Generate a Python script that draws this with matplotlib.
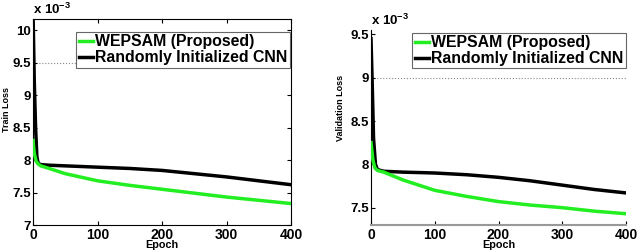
import numpy as np
import matplotlib.pyplot as plt

plt.rcParams['font.family'] = ['Liberation Sans', 'DejaVu Sans']
plt.rcParams['mathtext.fontset'] = 'custom'
plt.rcParams['mathtext.rm'] = 'Liberation Sans'
plt.rcParams['mathtext.bf'] = 'Liberation Sans:bold'

# values in units of 1e-3
ep_tr_g = [0, 2, 5, 8, 12, 25, 50, 100, 150, 200, 250, 300, 350, 400]
tr_g = [8.3, 8.1, 7.98, 7.94, 7.91, 7.87, 7.79, 7.68, 7.61, 7.55, 7.49, 7.43, 7.38, 7.33]
ep_tr_b = [0, 2, 4, 6, 8, 12, 25, 50, 100, 150, 200, 250, 300, 350, 400]
tr_b = [10.3, 9.2, 8.5, 8.05, 7.95, 7.93, 7.92, 7.91, 7.89, 7.87, 7.84, 7.79, 7.74, 7.68, 7.62]

ep_va_g = [0, 3, 6, 10, 20, 50, 100, 150, 200, 250, 300, 350, 400]
va_g = [8.25, 8.05, 7.96, 7.93, 7.91, 7.82, 7.70, 7.63, 7.57, 7.53, 7.50, 7.46, 7.43]
ep_va_b = [0, 2, 4, 7, 10, 20, 50, 100, 150, 200, 250, 300, 350, 400]
va_b = [9.45, 8.9, 8.3, 8.0, 7.94, 7.92, 7.91, 7.90, 7.88, 7.85, 7.81, 7.76, 7.71, 7.67]

labels = ['WEPSAM (Proposed)', 'Randomly Initialized CNN']
green = '#22ee22'

fig = plt.figure(figsize=(6.4, 2.52), dpi=100)
W, H = 640, 252

def make_ax(x0, x1, y0, y1):
    return fig.add_axes([x0 / W, 1 - y1 / H, (x1 - x0) / W, (y1 - y0) / H])

ax1 = make_ax(33, 291, 19, 225)
ax2 = make_ax(371, 626, 30, 225)

for ax, eg, g, eb, b, ylim, yt, ylab, hl, lx, ly, lanchor in [
    (ax1, ep_tr_g, tr_g, ep_tr_b, tr_b, (7, 10.17), [7, 7.5, 8, 8.5, 9, 9.5, 10],
     'Train Loss', 9.5, -0.085, 0.56, (0.996, 0.937)),
    (ax2, ep_va_g, va_g, ep_va_b, va_b, (7.3, 9.55), [7.5, 8, 8.5, 9, 9.5],
     'Validation Loss', 9.0, -0.102, 0.6, (1.0, 0.985)),
]:
    ax.axhline(hl, color='#888888', ls=':', lw=0.8, zorder=0)
    ax.plot(eb, b, color='black', lw=2.5, label=labels[1], zorder=3)
    ax.plot(eg, g, color=green, lw=2.5, label=labels[0], zorder=4)
    ax.set_xlim(0, 400)
    ax.set_ylim(*ylim)
    ax.set_xticks([0, 100, 200, 300, 400])
    ax.set_yticks(yt)
    ax.set_yticklabels([('%g' % v) for v in yt])
    ax.tick_params(direction='in', length=3, labelsize=10, pad=2)
    ax.tick_params(axis='y', labelsize=9.5, pad=1.5)
    for t in ax.get_xticklabels() + ax.get_yticklabels():
        t.set_fontweight('bold')
    ax.set_xlabel('Epoch', fontsize=7.8, fontweight='bold', labelpad=-1)
    ax.set_ylabel(ylab, fontsize=6.5, fontweight='bold')
    ax.yaxis.set_label_coords(lx, ly)
    ax.text(0, 1.01, r'x 10$^{\mathbf{-3}}$', transform=ax.transAxes, fontsize=9.5,
            fontweight='bold', ha='left', va='bottom')
    h, l = ax.get_legend_handles_labels()
    leg = ax.legend(h[::-1], l[::-1], loc='upper right', bbox_to_anchor=lanchor,
                    prop={'weight': 'bold', 'size': 11.4},
                    handlelength=0.9, handletextpad=0.15, borderpad=0.15, labelspacing=0.05,
                    fancybox=False, framealpha=1, edgecolor='#666666', borderaxespad=0)
    leg.get_frame().set_linewidth(0.8)

ax1.tick_params(top=True, right=True)
ax2.spines['top'].set_visible(False)
ax2.spines['right'].set_visible(False)
ax2.spines['bottom'].set_color('#999999')
ax2.spines['bottom'].set_linewidth(1.5)

fig.savefig('out.png', dpi=100)
